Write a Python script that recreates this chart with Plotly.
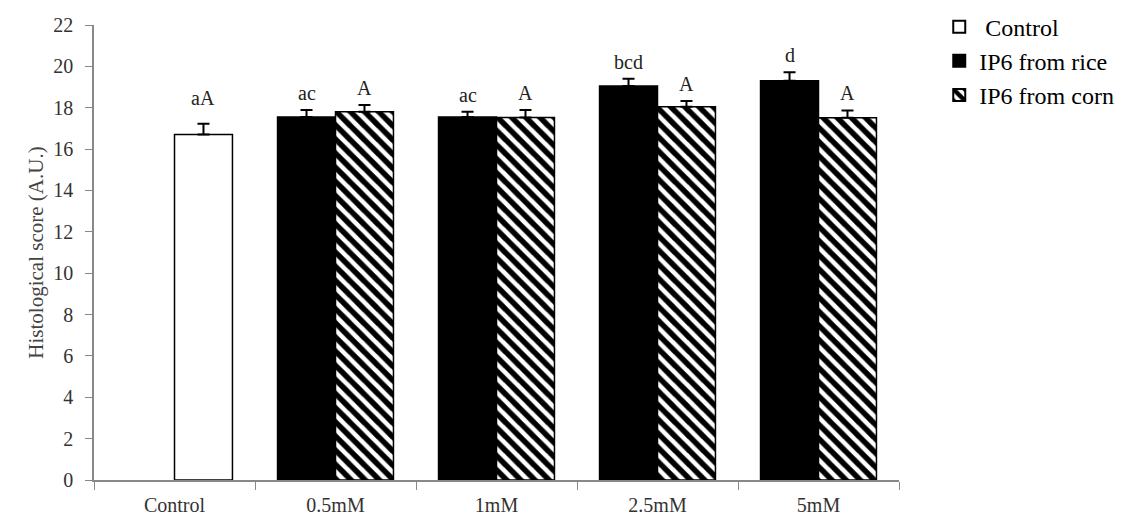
import plotly.graph_objects as go

categories = ["Control", "0.5mM", "1mM", "2.5mM", "5mM"]
control_cat = ["Control"]
control_val = [16.7]
control_err = [0.53]
control_lbl = ["aA"]
dose_cats = ["0.5mM", "1mM", "2.5mM", "5mM"]
rice_val = [17.55, 17.55, 19.05, 19.3]
rice_err = [0.34, 0.26, 0.35, 0.42]
rice_lbl = ["ac", "ac", "bcd", "d"]
corn_val = [17.8, 17.53, 18.05, 17.52]
corn_err = [0.33, 0.36, 0.28, 0.35]
corn_lbl = ["A", "A", "A", "A"]
yticks = list(range(0, 23, 2))

W = 0.36
FONT = "Liberation Serif"

def err(a):
    return dict(type="data", array=a, arrayminus=[0] * len(a), symmetric=False,
                color="black", thickness=2, width=6)

fig = go.Figure()
fig.add_trace(go.Bar(name=" Control", x=control_cat, y=control_val, width=W, offset=0,
                     marker=dict(color="white", line=dict(color="black", width=1.5)),
                     error_y=err(control_err)))
fig.add_trace(go.Bar(name="IP6 from rice", x=dose_cats, y=rice_val, width=W, offset=-W,
                     marker=dict(color="black", line=dict(color="black", width=1.5)),
                     error_y=err(rice_err)))
fig.add_trace(go.Bar(name="IP6 from corn", x=dose_cats, y=corn_val, width=W, offset=0,
                     marker=dict(color="white", line=dict(color="black", width=1.5),
                                 pattern=dict(shape="\\", fgcolor="black", bgcolor="white",
                                              size=10, solidity=0.55, fgopacity=1)),
                     error_y=err(corn_err)))

# significance letters
ann = []
ci = {c: i for i, c in enumerate(categories)}
def add_labels(cats, vals, errs, lbls, shift, ysh):
    for c, v, e, t in zip(cats, vals, errs, lbls):
        ann.append(dict(x=ci[c] + shift, y=v + e, text=t, xref="x", yref="y",
                        showarrow=False, yanchor="bottom", yshift=ysh,
                        font=dict(family=FONT, size=20, color="#222")))
add_labels(control_cat, control_val, control_err, control_lbl, W / 2, 13)
add_labels(dose_cats, rice_val, rice_err, rice_lbl, -W / 2, 4)
add_labels(dose_cats, corn_val, corn_err, corn_lbl, W / 2, 4)

fig.update_layout(
    template="none",
    width=1143, height=518,
    margin=dict(l=86, r=252, t=17, b=46, autoexpand=False),
    barmode="overlay",
    font=dict(family=FONT, color="#222"),
    plot_bgcolor="white", paper_bgcolor="white",
    annotations=ann,
    showlegend=True,
    legend=dict(x=1.05, y=1.045, xanchor="left", yanchor="top",
                font=dict(family=FONT, size=24, color="black"),
                bgcolor="rgba(0,0,0,0)", tracegroupgap=0, itemsizing="constant"),
    xaxis=dict(type="category", categoryorder="array", categoryarray=categories,
               range=[-0.5, 4.5], showline=True, linecolor="#888", linewidth=1.5,
               ticks="outside", tickson="boundaries", ticklen=8, tickcolor="#888",
               ticklabelstandoff=6, automargin=False, zeroline=False,
               tickfont=dict(family=FONT, size=20, color="#333"), showgrid=False),
    yaxis=dict(range=[0, 22], tickvals=yticks, showline=True, linecolor="#888", linewidth=1.5,
               ticks="outside", ticklen=7, tickcolor="#888", showgrid=False, zeroline=False,
               ticklabelstandoff=8, automargin=False,
               tickfont=dict(family=FONT, size=20, color="#333"),
               title=dict(text="Histological score (A.U.)", standoff=4,
                          font=dict(family=FONT, size=21, color="#444"))),
)

fig.write_html("out.html")
